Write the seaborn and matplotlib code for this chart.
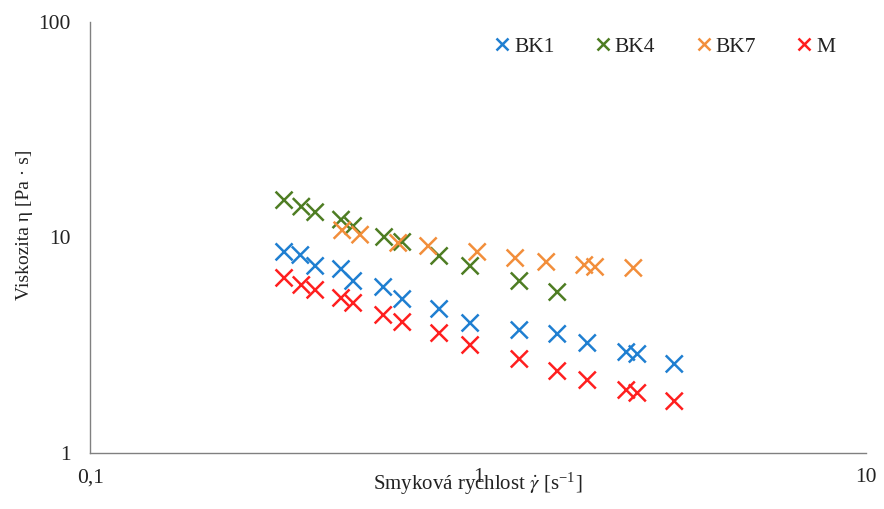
import numpy as np
import pandas as pd
import matplotlib
matplotlib.use('Agg')
import matplotlib.pyplot as plt
import matplotlib.ticker as mticker
import seaborn as sns

# smykova rychlost [1/s] a viskozita [Pa.s]
x_bk1 = [0.316, 0.348, 0.38, 0.443, 0.476, 0.569, 0.637, 0.793, 0.953, 1.276, 1.598, 1.91, 2.407, 2.57, 3.2]
y_bk1 = [8.57, 8.29, 7.38, 7.14, 6.28, 5.89, 5.18, 4.66, 4.01, 3.72, 3.57, 3.24, 2.94, 2.88, 2.59]

x_bk4 = [0.316, 0.35, 0.38, 0.443, 0.476, 0.572, 0.637, 0.793, 0.953, 1.276, 1.598]
y_bk4 = [14.9, 13.9, 13.1, 12.1, 11.3, 10.05, 9.53, 8.21, 7.38, 6.28, 5.58]

x_bk7 = [0.446, 0.496, 0.622, 0.743, 0.994, 1.245, 1.497, 1.876, 2.0, 2.51]
y_bk7 = [10.8, 10.3, 9.43, 9.13, 8.57, 8.03, 7.70, 7.45, 7.30, 7.22]

x_m = [0.316, 0.35, 0.38, 0.443, 0.476, 0.569, 0.637, 0.793, 0.953, 1.276, 1.598, 1.91, 2.407, 2.57, 3.2]
y_m = [6.49, 6.02, 5.71, 5.24, 4.97, 4.37, 4.05, 3.60, 3.17, 2.73, 2.40, 2.18, 1.96, 1.90, 1.74]

vzorky = ['BK1', 'BK4', 'BK7', 'M']
barvy = ['#1f7fd1', '#4e7d23', '#f28e3b', '#ff1f1f']

df = pd.concat([
    pd.DataFrame({'gamma': x_bk1, 'eta': y_bk1, 'vzorek': 'BK1'}),
    pd.DataFrame({'gamma': x_bk4, 'eta': y_bk4, 'vzorek': 'BK4'}),
    pd.DataFrame({'gamma': x_bk7, 'eta': y_bk7, 'vzorek': 'BK7'}),
    pd.DataFrame({'gamma': x_m, 'eta': y_m, 'vzorek': 'M'}),
], ignore_index=True)

sns.set_style('white')
plt.rcParams['font.family'] = ['Liberation Serif', 'DejaVu Serif']
plt.rcParams['mathtext.fontset'] = 'stix'

fig = plt.figure(figsize=(8.84, 5.09), dpi=100)
ax = fig.add_axes([0.102, 0.110, 0.878, 0.847])

sns.scatterplot(data=df, x='gamma', y='eta', hue='vzorek', hue_order=vzorky,
                palette=barvy, marker='x', s=150, linewidth=1.8, ax=ax, zorder=3)

ax.set_xscale('log')
ax.set_yscale('log')
ax.set_xlim(0.1, 10)
ax.set_ylim(1, 100)

ax.xaxis.set_major_formatter(mticker.FuncFormatter(lambda v, p: ('%g' % v).replace('.', ',')))
ax.yaxis.set_major_formatter(mticker.FuncFormatter(lambda v, p: '%g' % v))
ax.xaxis.set_minor_formatter(mticker.NullFormatter())
ax.yaxis.set_minor_formatter(mticker.NullFormatter())

for s in ['top', 'right']:
    ax.spines[s].set_visible(False)
for s in ['left', 'bottom']:
    ax.spines[s].set_color('#808080')
    ax.spines[s].set_linewidth(1.0)

ax.tick_params(which='both', direction='in', colors='#808080', labelcolor='#222222', labelsize=15.5)
ax.tick_params(which='major', length=7, width=1)
ax.tick_params(which='minor', length=5, width=1)
ax.tick_params(axis='x', which='major', pad=11)
ax.tick_params(axis='y', which='major', pad=14)

ax.set_xlabel(r'Smyková rychlost $\dot{\gamma}$ [s$^{\mathregular{-1}}$]', fontsize=15, labelpad=-12,
              color='#222222')
ax.set_ylabel('Viskozita η [Pa · s]', fontsize=14, color='#222222')
ax.yaxis.set_label_coords(-0.074, 0.53)

leg = ax.legend(loc='upper right', bbox_to_anchor=(0.985, 1.01), ncol=4, frameon=False,
                fontsize=15.5, markerscale=0.65, handletextpad=0.05, columnspacing=1.75,
                handlelength=1.0)
for t in leg.get_texts():
    t.set_color('#222222')

fig.savefig('out.png', dpi=100)
